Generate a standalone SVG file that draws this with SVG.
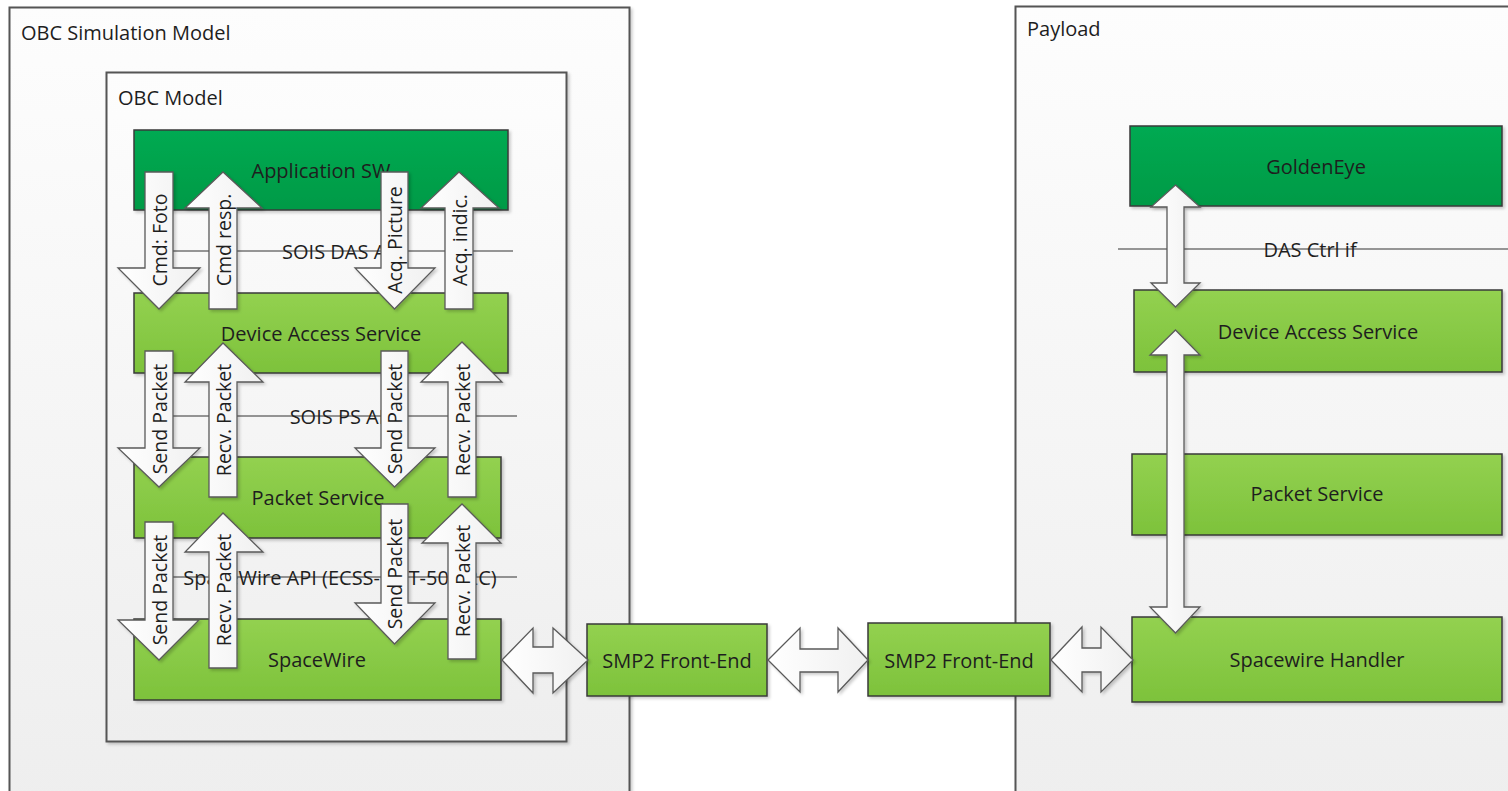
<svg xmlns="http://www.w3.org/2000/svg" width="1508" height="791" viewBox="0 0 1508 791">
  <defs>
    <linearGradient id="gPanel" x1="0" y1="0" x2="0" y2="1">
      <stop offset="0" stop-color="#fdfdfd"/>
      <stop offset="1" stop-color="#eeeeee"/>
    </linearGradient>
    <linearGradient id="gDark" x1="0" y1="0" x2="0" y2="1">
      <stop offset="0" stop-color="#00aa52"/>
      <stop offset="1" stop-color="#009a46"/>
    </linearGradient>
    <linearGradient id="gLight" x1="0" y1="0" x2="0" y2="1">
      <stop offset="0" stop-color="#93d150"/>
      <stop offset="1" stop-color="#7dc23b"/>
    </linearGradient>
    <linearGradient id="gArrow" x1="0" y1="0" x2="1" y2="0">
      <stop offset="0" stop-color="#ffffff"/>
      <stop offset="1" stop-color="#f0f0f0"/>
    </linearGradient>
    <filter id="shadow" x="-10%" y="-10%" width="130%" height="130%">
      <feDropShadow dx="2" dy="2" stdDeviation="1.5" flood-color="#000" flood-opacity="0.2"/>
    </filter>
  </defs>
  <style>
    text { font-family: "Open Sans", "Noto Sans", "DejaVu Sans", sans-serif; fill: #1e1e1e; }
    .panel { fill: url(#gPanel); stroke: #555; stroke-width: 2; filter: url(#shadow); }
    .title { font-size: 20px; }
    .dark { fill: url(#gDark); stroke: #3a3a3a; stroke-width: 1.5; filter: url(#shadow); }
    .light { fill: url(#gLight); stroke: #3a3a3a; stroke-width: 1.5; filter: url(#shadow); }
    .lbl { font-size: 20px; text-anchor: middle; dominant-baseline: central; }
    .api { stroke: #333; stroke-width: 1.2; fill: none; }
    .arrow { fill: url(#gArrow); stroke: #5a5a5a; stroke-width: 1.3; stroke-linejoin: miter; filter: url(#shadow); }
    .alb { font-size: 19.5px; text-anchor: middle; dominant-baseline: central; }
  </style>

  <rect width="1508" height="791" fill="#ffffff"/>

  <!-- containers -->
  <g id="obc-simulation-model">
    <rect class="panel" x="9.5" y="7.5" width="620" height="800"/>
    <text class="title" x="21" y="40">OBC Simulation Model</text>
  </g>
  <g id="payload">
    <rect class="panel" x="1015.5" y="6.5" width="520" height="800"/>
    <text class="title" x="1027" y="36">Payload</text>
  </g>
  <g id="obc-model">
    <rect class="panel" x="106.5" y="72.5" width="460" height="669"/>
    <text class="title" x="118" y="105">OBC Model</text>
  </g>

  <!-- OBC layers -->
  <g id="application-sw">
    <rect class="dark" x="134" y="130" width="374" height="80"/>
    <text class="lbl" x="321" y="170">Application SW</text>
  </g>
  <g id="sois-das-api">
    <line class="api" x1="173" y1="251" x2="513" y2="251"/>
    <text class="lbl" x="343" y="251">SOIS DAS API</text>
  </g>
  <g id="device-access-service">
    <rect class="light" x="134" y="293" width="374" height="80"/>
    <text class="lbl" x="321" y="333">Device Access Service</text>
  </g>
  <g id="sois-ps-api">
    <line class="api" x1="173" y1="416" x2="517" y2="416"/>
    <text class="lbl" x="343" y="416">SOIS PS API</text>
  </g>
  <g id="packet-service">
    <rect class="light" x="134" y="457" width="367" height="81"/>
    <text class="lbl" x="318" y="497">Packet Service</text>
  </g>
  <g id="spacewire-api">
    <line class="api" x1="173" y1="577" x2="517" y2="577"/>
    <text class="lbl" x="340" y="577">SpaceWire API (ECSS-E-ST-50-12C)</text>
  </g>
  <g id="spacewire">
    <rect class="light" x="134" y="619" width="367" height="81"/>
    <text class="lbl" x="317" y="659">SpaceWire</text>
  </g>

  <!-- front-ends -->
  <g id="smp2-front-end-1">
    <rect class="light" x="587" y="624" width="180" height="72"/>
    <text class="lbl" x="677" y="660">SMP2 Front-End</text>
  </g>
  <g id="smp2-front-end-2">
    <rect class="light" x="868" y="623" width="182" height="73"/>
    <text class="lbl" x="959" y="660">SMP2 Front-End</text>
  </g>

  <!-- payload layers -->
  <g id="goldeneye">
    <rect class="dark" x="1130" y="126" width="372" height="80"/>
    <text class="lbl" x="1316" y="166">GoldenEye</text>
  </g>
  <g id="das-ctrl-if">
    <line class="api" x1="1118" y1="249" x2="1508" y2="249"/>
    <text class="lbl" x="1310" y="249">DAS Ctrl if</text>
  </g>
  <g id="payload-device-access-service">
    <rect class="light" x="1134" y="290" width="368" height="82"/>
    <text class="lbl" x="1318" y="331">Device Access Service</text>
  </g>
  <g id="payload-packet-service">
    <rect class="light" x="1132" y="454" width="370" height="81"/>
    <text class="lbl" x="1317" y="493">Packet Service</text>
  </g>
  <g id="spacewire-handler">
    <rect class="light" x="1132" y="617" width="370" height="85"/>
    <text class="lbl" x="1317" y="659">Spacewire Handler</text>
  </g>

  <!-- connectors: block arrows -->
  <g id="connectors">
    <polygon class="arrow" points="145,172 173,172 173,268 200,268 159,309 118,268 145,268"/>
    <text class="alb" transform="translate(159,240) rotate(-90)">Cmd: Foto</text>
    <polygon class="arrow" points="209,309 237,309 237,208 262,208 223,172 185,208 209,208"/>
    <text class="alb" transform="translate(223,240) rotate(-90)">Cmd resp.</text>
    <polygon class="arrow" points="381,172 408,172 408,268 435,268 394.5,309 355,268 381,268"/>
    <text class="alb" transform="translate(394.5,240) rotate(-90)">Acq. Picture</text>
    <polygon class="arrow" points="445,309 473,309 473,208 499,208 459,172 421,208 445,208"/>
    <text class="alb" transform="translate(459,240) rotate(-90)">Acq. indic.</text>

    <polygon class="arrow" points="145,351 173,351 173,448 200,448 159,487 118,448 145,448"/>
    <text class="alb" transform="translate(159,419) rotate(-90)">Send Packet</text>
    <polygon class="arrow" points="209,497 237,497 237,382 263,382 223,343 185,382 209,382"/>
    <text class="alb" transform="translate(223,420) rotate(-90)">Recv. Packet</text>
    <polygon class="arrow" points="381,351 408,351 408,448 435,448 394.5,487 355,448 381,448"/>
    <text class="alb" transform="translate(394.5,419) rotate(-90)">Send Packet</text>
    <polygon class="arrow" points="448,497 476,497 476,382 502,382 462,342 421,382 448,382"/>
    <text class="alb" transform="translate(462,420) rotate(-90)">Recv. Packet</text>

    <polygon class="arrow" points="145,522 173,522 173,620 199,620 159,660 118,620 145,620"/>
    <text class="alb" transform="translate(159,590) rotate(-90)">Send Packet</text>
    <polygon class="arrow" points="209,668 237,668 237,552 263,552 223,513 185,552 209,552"/>
    <text class="alb" transform="translate(223,590) rotate(-90)">Recv. Packet</text>
    <polygon class="arrow" points="381,504 408,504 408,603 435,603 394.5,644 355,603 381,603"/>
    <text class="alb" transform="translate(394.5,574) rotate(-90)">Send Packet</text>
    <polygon class="arrow" points="448,659 476,659 476,543 501,543 462,504 422,543 448,543"/>
    <text class="alb" transform="translate(462,581) rotate(-90)">Recv. Packet</text>

    <polygon class="arrow" points="502,660 533,628 533,647 553,647 553,628 588,660 553,693 553,673 533,673 533,693"/>
    <polygon class="arrow" points="768,660 800,628 800,649 838,649 838,628 868,660 838,692 838,672 800,672 800,692"/>
    <polygon class="arrow" points="1051,660 1082,627 1082,648 1101,648 1101,627 1133,660 1101,692 1101,672 1082,672 1082,692"/>

    <polygon class="arrow" points="1175.5,185 1200,207 1184,207 1184,283 1200,283 1175.5,307 1151,283 1167,283 1167,207 1151,207"/>
    <polygon class="arrow" points="1175.5,330 1200,355 1184,355 1184,607 1200,607 1175.5,633 1150,607 1167,607 1167,355 1150,355"/>
  </g>
</svg>
